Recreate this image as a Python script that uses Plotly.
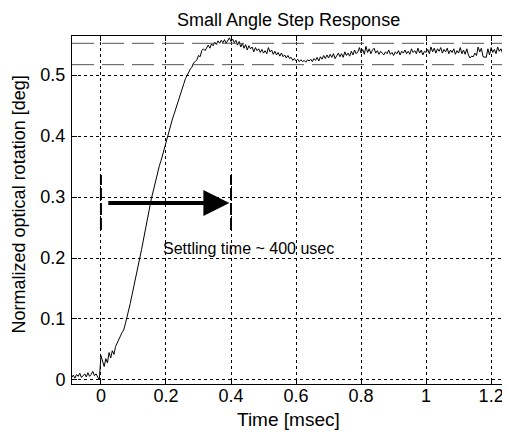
import numpy as np
import plotly.graph_objects as go

# sampling grid of the measured response (msec)
t_start, t_step = -0.090, 0.005

# normalized optical rotation [deg]
pre = [0.004, 0.008, 0.003, 0.009, 0.006, 0.011, 0.004, 0.007, 0.010, 0.005,
       0.012, 0.006, 0.009, 0.014, 0.007, 0.010, 0.004, 0.000]
rise = [0.040, 0.030, 0.022, 0.035, 0.028, 0.045, 0.036, 0.048, 0.042, 0.055,
        0.060, 0.066, 0.072, 0.078, 0.082, 0.092, 0.102, 0.113, 0.125, 0.138,
        0.150, 0.163, 0.175, 0.188, 0.200, 0.214, 0.228, 0.243, 0.256, 0.270,
        0.284, 0.297, 0.308, 0.320, 0.332, 0.343, 0.352, 0.360, 0.370, 0.380,
        0.392, 0.402, 0.412, 0.420, 0.428, 0.436, 0.445, 0.452, 0.462, 0.470,
        0.478, 0.486, 0.494, 0.500, 0.505, 0.510, 0.513, 0.520, 0.522, 0.525]
overshoot = [0.532, 0.530, 0.540, 0.543, 0.540, 0.546, 0.549, 0.544, 0.551, 0.548,
             0.554, 0.550, 0.556, 0.552, 0.557, 0.553, 0.558, 0.552, 0.557, 0.561,
             0.555, 0.559, 0.553, 0.557, 0.549, 0.555, 0.546, 0.552, 0.544, 0.550,
             0.541, 0.548, 0.543, 0.546, 0.538, 0.545, 0.540, 0.543, 0.537, 0.542]
settle = [0.536, 0.540, 0.535, 0.545, 0.538, 0.541, 0.534, 0.539, 0.533, 0.537,
          0.531, 0.536, 0.530, 0.533, 0.528, 0.532, 0.527, 0.529, 0.524, 0.527,
          0.523, 0.526, 0.522, 0.525, 0.522, 0.524, 0.521, 0.525, 0.523, 0.526,
          0.522, 0.527, 0.524, 0.529, 0.523, 0.530, 0.526, 0.532, 0.527, 0.533,
          0.528, 0.534, 0.529, 0.535, 0.527, 0.532, 0.536, 0.530, 0.535, 0.529,
          0.538, 0.532, 0.536, 0.531, 0.539, 0.533, 0.541, 0.535, 0.538, 0.545]
steady = [0.536, 0.542, 0.534, 0.547, 0.537, 0.543, 0.535, 0.541, 0.544, 0.536,
          0.540, 0.534, 0.539, 0.536, 0.533, 0.538, 0.535, 0.541, 0.534, 0.537,
          0.532, 0.538, 0.535, 0.540, 0.533, 0.539, 0.536, 0.541, 0.535, 0.539,
          0.534, 0.543, 0.537, 0.540, 0.535, 0.544, 0.536, 0.541, 0.533, 0.539,
          0.537, 0.542, 0.535, 0.546, 0.538, 0.544, 0.536, 0.543, 0.539, 0.545,
          0.536, 0.542, 0.538, 0.544, 0.535, 0.541, 0.537, 0.543, 0.534, 0.540,
          0.536, 0.545, 0.535, 0.541, 0.534, 0.543, 0.533, 0.528, 0.531, 0.530,
          0.536, 0.532, 0.546, 0.538, 0.544, 0.530, 0.529, 0.529, 0.543, 0.533,
          0.545, 0.537, 0.542, 0.535, 0.546, 0.539, 0.543, 0.536, 0.544, 0.538,
          0.542, 0.537, 0.540]

response = pre + rise + overshoot + settle + steady
time = np.round(t_start + t_step * np.arange(len(response)), 3)

# settling band (dashed) and settling-time markers
band_levels = [0.552, 0.517]
marker_times = [0.0, 0.4]
marker_span = [0.246, 0.336]
arrow_from, arrow_to, arrow_level = 0.018, 0.395, 0.290
note_text = "Settling time ~ 400 usec"
note_pos = (0.185, 0.216)

title_text = "Small Angle Step Response"
x_title = "Time [msec]"
y_title = "Normalized optical rotation [deg]"
x_ticks = [0, 0.2, 0.4, 0.6, 0.8, 1, 1.2]
x_labels = ["0", "0.2", "0.4", "0.6", "0.8", "1", "1.2"]
y_ticks = [0, 0.1, 0.2, 0.3, 0.4, 0.5]
y_labels = ["0", "0.1", "0.2", "0.3", "0.4", "0.5"]

FONT = "Liberation Sans, Arial, sans-serif"
NARROW = "Liberation Sans Narrow, Arial Narrow, Liberation Sans, sans-serif"

fig = go.Figure()
fig.add_trace(go.Scatter(x=time, y=response, mode="lines",
                         line=dict(color="black", width=1), showlegend=False,
                         hoverinfo="skip"))

for lvl in band_levels:
    fig.add_shape(type="line", xref="paper", x0=0, x1=1, yref="y", y0=lvl, y1=lvl,
                  line=dict(color="#555555", width=1, dash="22px,8px"))

for mt in marker_times:
    fig.add_shape(type="line", xref="x", yref="y", x0=mt, x1=mt,
                  y0=marker_span[0], y1=marker_span[1],
                  line=dict(color="black", width=2, dash="12px,3px"))

fig.add_annotation(x=arrow_to, y=arrow_level, ax=arrow_from, ay=arrow_level,
                   xref="x", yref="y", axref="x", ayref="y", text="",
                   showarrow=True, arrowhead=2, arrowsize=1.3, arrowwidth=4,
                   arrowcolor="black", standoff=0)

fig.add_annotation(x=note_pos[0], y=note_pos[1], xref="x", yref="y", text=note_text,
                   showarrow=False, xanchor="left", yanchor="middle",
                   font=dict(family=FONT, size=16, color="black"))

# titles
fig.add_annotation(x=0.4954, y=1.047, xref="paper", yref="paper",
                   text=title_text, showarrow=False, xanchor="center", yanchor="middle",
                   font=dict(family=FONT, size=18, color="black"))
fig.add_annotation(x=0.4954, y=-0.103, xref="paper", yref="paper",
                   text=x_title, showarrow=False, xanchor="center", yanchor="middle",
                   font=dict(family=FONT, size=19, color="black"))
fig.add_annotation(x=-0.121, y=0.516, xref="paper", yref="paper", textangle=-90,
                   text=y_title, showarrow=False, xanchor="center", yanchor="middle",
                   font=dict(family=NARROW, size=18, color="black"))

# the page adds an 8px body margin, so the figure is drawn 8px smaller
fig.update_layout(
    width=502, height=429,
    margin=dict(l=64, r=0, t=28, b=53),
    paper_bgcolor="white", plot_bgcolor="white",
    font=dict(family=FONT, size=18, color="black"),
    xaxis=dict(range=[-0.089, 1.258], tickvals=x_ticks, ticktext=x_labels,
               automargin=False,
               showgrid=True, gridcolor="black", griddash="dot", gridwidth=1,
               zeroline=False, showline=True, linecolor="black", linewidth=1,
               mirror="ticks", ticks="inside", ticklen=5, tickcolor="black",
               ticklabelstandoff=-5,
               tickfont=dict(family=FONT, size=18)),
    yaxis=dict(range=[-0.0066, 0.564], tickvals=y_ticks, ticktext=y_labels,
               automargin=False,
               showgrid=True, gridcolor="black", griddash="dot", gridwidth=1,
               zeroline=False, showline=True, linecolor="black", linewidth=1,
               ticks="inside", ticklen=5, tickcolor="black", ticklabelstandoff=2,
               tickfont=dict(family=FONT, size=18)),
)

fig.write_html("out.html")
